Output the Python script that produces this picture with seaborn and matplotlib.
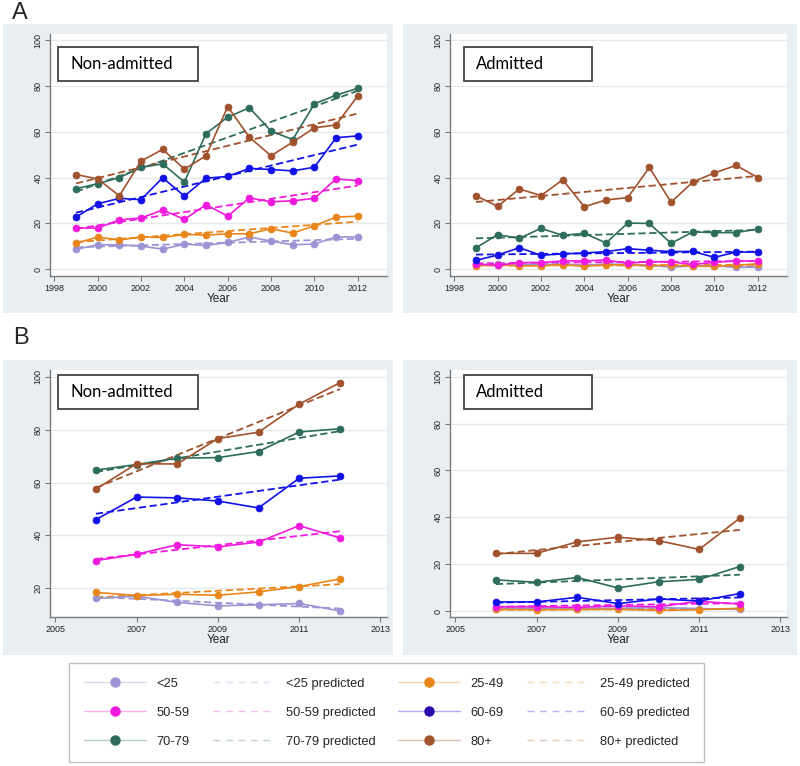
import matplotlib
matplotlib.use("Agg")
import matplotlib.pyplot as plt
import seaborn as sns
from matplotlib.patches import Rectangle
from matplotlib.lines import Line2D
from matplotlib.colors import to_rgba

sns.set_style("white")
plt.rcParams['font.family'] = ['Liberation Sans', 'DejaVu Sans']
plt.rcParams['lines.dashed_pattern'] = [4, 2]

# age groups and colours
groups = ['<25', '25-49', '50-59', '60-69', '70-79', '80+']
colors = ['#9b93d3', '#e8861a', '#f01ade', '#1212e8', '#2e6c5c', '#a0522d']

years_a = list(range(1999, 2013))
years_b = list(range(2006, 2013))

# panel A - non-admitted
a_non = {
    '<25':   [8.6, 10.6, 10.6, 10.0, 8.7, 10.8, 10.3, 11.6, 14.0, 12.2, 10.6, 10.9, 14.0, 14.0],
    '25-49': [11.2, 14.0, 12.7, 14.0, 13.8, 15.1, 14.8, 15.4, 15.4, 17.6, 15.7, 18.9, 22.7, 23.1],
    '50-59': [17.9, 17.9, 21.5, 22.3, 25.8, 21.7, 28.1, 23.1, 31.1, 29.4, 29.8, 30.9, 39.4, 38.6],
    '60-69': [22.7, 28.5, 30.9, 30.3, 39.9, 31.9, 39.7, 40.5, 44.0, 43.5, 42.9, 44.5, 57.4, 58.2],
    '70-79': [35.1, 37.3, 40.0, 44.4, 46.0, 38.0, 59.2, 66.4, 70.5, 60.3, 56.6, 72.2, 76.0, 79.0],
    '80+':   [41.3, 39.4, 32.0, 47.2, 52.3, 43.7, 49.5, 71.0, 57.6, 49.5, 55.5, 61.7, 63.0, 75.7],
}
a_non_pred = {'<25': (9.5, 13.2), '25-49': (11.8, 20.7), '50-59': (17.6, 36.5),
              '60-69': (24.6, 54.4), '70-79': (33.8, 77.9), '80+': (37.4, 68.0)}

# panel A - admitted
a_adm = {
    '<25':   [1.8, 2.0, 2.0, 1.9, 2.3, 1.6, 2.2, 2.0, 1.7, 0.8, 1.3, 1.5, 0.7, 0.9],
    '25-49': [1.5, 1.8, 1.4, 1.4, 1.9, 1.2, 1.8, 1.8, 1.5, 1.6, 1.2, 1.2, 1.6, 2.3],
    '50-59': [2.2, 1.6, 2.8, 2.8, 3.5, 3.6, 3.9, 2.5, 3.2, 3.1, 2.0, 2.9, 3.6, 3.4],
    '60-69': [3.8, 6.1, 9.3, 6.0, 6.6, 7.0, 7.6, 8.9, 8.2, 7.6, 7.7, 5.1, 7.4, 7.4],
    '70-79': [9.3, 15.0, 13.4, 17.8, 14.7, 15.6, 11.4, 20.1, 19.9, 11.2, 16.2, 15.9, 15.9, 17.5],
    '80+':   [32.0, 27.4, 35.0, 32.1, 39.0, 27.2, 30.2, 31.2, 44.4, 29.2, 38.0, 42.0, 45.3, 40.0],
}
a_adm_pred = {'<25': (2.2, 1.0), '25-49': (1.5, 1.8), '50-59': (2.5, 3.5),
              '60-69': (6.3, 7.6), '70-79': (13.4, 17.1), '80+': (29.3, 40.7)}

# panel B - non-admitted
b_non = {
    '<25':   [16.2, 17.1, 14.7, 13.4, 13.8, 14.3, 11.5],
    '25-49': [18.5, 17.3, 17.8, 17.4, 18.7, 20.7, 23.6],
    '50-59': [30.5, 32.9, 36.5, 35.7, 37.5, 43.7, 39.1],
    '60-69': [46.0, 54.5, 54.2, 53.0, 50.4, 61.6, 62.5],
    '70-79': [64.7, 66.8, 69.2, 69.4, 71.7, 79.1, 80.3],
    '80+':   [57.5, 67.1, 67.0, 76.6, 79.0, 89.6, 97.7],
}
b_non_pred = {'<25': (16.8, 12.4), '25-49': (16.6, 21.6), '50-59': (31.1, 41.6),
              '60-69': (48.2, 61.1), '70-79': (64.0, 79.4), '80+': (58.0, 95.3)}

# panel B - admitted
b_adm = {
    '<25':   [1.2, 1.4, 1.1, 1.3, 1.6, 1.2, 0.8],
    '25-49': [0.8, 0.7, 0.8, 0.9, 0.4, 0.7, 1.3],
    '50-59': [1.9, 2.0, 1.7, 2.3, 2.0, 4.3, 3.1],
    '60-69': [4.0, 4.0, 6.0, 3.3, 5.3, 4.4, 7.6],
    '70-79': [13.4, 12.4, 14.4, 10.0, 12.6, 13.6, 19.1],
    '80+':   [24.7, 24.7, 29.6, 31.6, 30.1, 26.4, 39.7],
}
b_adm_pred = {'<25': (1.5, 1.0), '25-49': (0.7, 1.0), '50-59': (2.0, 3.5),
              '60-69': (3.7, 5.9), '70-79': (11.6, 15.6), '80+': (24.4, 34.7)}

W, H = 800, 766
fig = plt.figure(figsize=(W / 100, H / 100), dpi=100)
bg = '#e8eef1'


def px_rect(x0, y0, x1, y1, **kw):
    fig.add_artist(Rectangle((x0 / W, 1 - y1 / H), (x1 - x0) / W, (y1 - y0) / H,
                             transform=fig.transFigure, **kw))


def draw_panel(rect, years, data, pred, xticks, xlim, ylim, yticks, title):
    x0, y0, x1, y1 = rect
    ax = fig.add_axes([x0 / W, 1 - y1 / H, (x1 - x0) / W, (y1 - y0) / H])
    ax.set_facecolor('white')
    for g, c in zip(groups, colors):
        sns.lineplot(x=[years[0], years[-1]], y=list(pred[g]), color=c, lw=1.3,
                     linestyle='--', ax=ax)
    for g, c in zip(groups, colors):
        sns.lineplot(x=years, y=data[g], color=c, lw=1.2, marker='o', markersize=5,
                     markeredgecolor=c, markeredgewidth=0.5, ax=ax)
    ax.set_xlim(*xlim)
    ax.set_ylim(*ylim)
    ax.set_xticks(xticks)
    ax.set_yticks(yticks)
    ax.yaxis.grid(True, color='#e3ebef', lw=1)
    ax.set_axisbelow(True)
    for s in ['top', 'right']:
        ax.spines[s].set_visible(False)
    for s in ['left', 'bottom']:
        ax.spines[s].set_color('#7a7a7a')
        ax.spines[s].set_linewidth(1.0)
    ax.tick_params(axis='both', length=3.5, width=0.8, color='#7a7a7a',
                   labelsize=6.5, labelcolor='#222222', pad=2, left=True, bottom=True)
    for lab in ax.get_yticklabels():
        lab.set_rotation(90)
        lab.set_va('center')
    ax.set_xlabel('Year', fontsize=8.5, labelpad=0, color='#222222')
    ax.set_ylabel('')
    # label box
    bw = 140 if title == 'Non-admitted' else 128
    bx = x0 + 8 if title == 'Non-admitted' else x0 + 14
    by = y0 + 13 if y0 < 300 else y0 + 5
    px_rect(bx, by, bx + bw, by + 34, facecolor='white', edgecolor='#333333', lw=1.2,
            zorder=5)
    fig.text((bx + 12) / W, 1 - (by + 17) / H, title, family=['Lato', 'DejaVu Sans'],
             fontsize=12, va='center', ha='left', color='black', zorder=6)
    return ax


# panel backgrounds
for r in [(3, 24, 393, 313), (403, 24, 797, 313), (3, 360, 393, 655), (403, 360, 797, 655)]:
    px_rect(*r, facecolor=bg, edgecolor='none', zorder=-5)

fig.text(20 / W, 1 - 13 / H, 'A', fontsize=17, ha='center', va='center')
fig.text(21 / W, 1 - 338 / H, 'B', fontsize=17, ha='center', va='center')

xt_a = list(range(1998, 2013, 2))
xt_b = list(range(2005, 2014, 2))
draw_panel((50, 34, 387, 276), years_a, a_non, a_non_pred, xt_a, (1997.8, 2013.35),
           (-3.06, 102.75), [0, 20, 40, 60, 80, 100], 'Non-admitted')
draw_panel((450, 34, 787, 276), years_a, a_adm, a_adm_pred, xt_a, (1997.8, 2013.35),
           (-3.06, 102.75), [0, 20, 40, 60, 80, 100], 'Admitted')
draw_panel((50, 370, 387, 617), years_b, b_non, b_non_pred, xt_b, (2004.87, 2013.16),
           (9.2, 102.5), [20, 40, 60, 80, 100], 'Non-admitted')
draw_panel((450, 370, 787, 617), years_b, b_adm, b_adm_pred, xt_b, (2004.87, 2013.16),
           (-2.4, 102.8), [0, 20, 40, 60, 80, 100], 'Admitted')

# legend
hmap = {}
for g, c in zip(groups, colors):
    mc = '#2a0ab0' if g == '60-69' else c
    hmap[g] = Line2D([], [], color=to_rgba(c, 0.35), lw=1, marker='o', markersize=6.5,
                     markerfacecolor=mc, markeredgecolor=mc)
    hmap[g + ' predicted'] = Line2D([], [], color=to_rgba(c, 0.3), lw=1, linestyle=(0, (5, 4)))
order = ['<25', '50-59', '70-79', '<25 predicted', '50-59 predicted', '70-79 predicted',
         '25-49', '60-69', '80+', '25-49 predicted', '60-69 predicted', '80+ predicted']
leg = fig.legend([hmap[k] for k in order], order, ncol=4, loc='upper left',
                 bbox_to_anchor=(69 / W, 1 - 663 / H), borderaxespad=0, fontsize=9.3,
                 handlelength=4.8, handletextpad=0.85, columnspacing=1.75, labelspacing=1.3,
                 borderpad=1.15, fancybox=False, frameon=True)
leg.get_frame().set_edgecolor('#b0b0b0')
leg.get_frame().set_linewidth(1.0)

fig.savefig('out.png', dpi=100)
